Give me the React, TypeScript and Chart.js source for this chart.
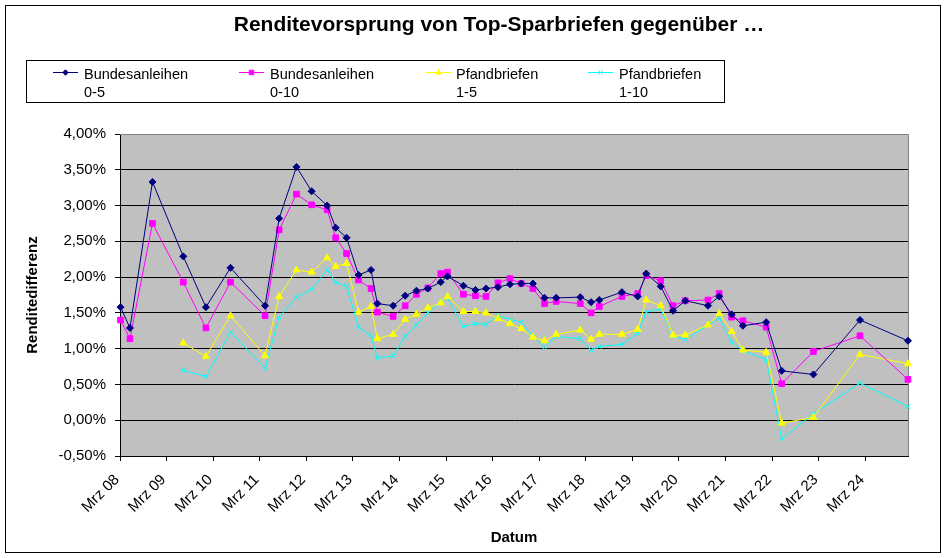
import React, { useEffect, useRef } from "react";
import { Chart, registerables } from "chart.js";

Chart.register(...registerables);

// ---- data ----
const dates = [
  "2008-03-05", "2008-05-18", "2008-11-12", "2009-07-10", "2010-01-05", "2010-07-15",
  "2011-04-12", "2011-08-01", "2011-12-15", "2012-04-12", "2012-08-12", "2012-10-18",
  "2013-01-12", "2013-04-15", "2013-07-21", "2013-09-10", "2014-01-12", "2014-04-15",
  "2014-07-12", "2014-10-10", "2015-01-20", "2015-03-12", "2015-07-15", "2015-10-18",
  "2016-01-10", "2016-04-12", "2016-07-15", "2016-10-12", "2017-01-12", "2017-04-12",
  "2017-07-12", "2018-01-18", "2018-04-12", "2018-06-15", "2018-12-10", "2019-04-12",
  "2019-06-18", "2019-10-10", "2020-01-15", "2020-04-20", "2020-10-15", "2021-01-12",
  "2021-04-18", "2021-07-15", "2022-01-15", "2022-05-15", "2023-01-20", "2024-01-20",
  "2025-02-01",
];

const bund05 = [
  1.58, 1.29, 3.33, 2.29, 1.58, 2.13, 1.60, 2.82, 3.54, 3.20, 3.00, 2.69,
  2.55, 2.03, 2.10, 1.63, 1.60, 1.74, 1.81, 1.84, 1.93, 2.01, 1.88, 1.82,
  1.84, 1.86, 1.90, 1.91, 1.91, 1.71, 1.71, 1.72, 1.65, 1.68, 1.79, 1.73,
  2.05, 1.87, 1.53, 1.67, 1.60, 1.73, 1.48, 1.32, 1.37, 0.69, 0.64, 1.40,
  1.11,
];

const bund010 = [
  1.40, 1.14, 2.75, 1.93, 1.29, 1.93, 1.46, 2.66, 3.16, 3.01, 2.94, 2.55,
  2.33, 1.96, 1.84, 1.51, 1.45, 1.60, 1.76, 1.85, 2.05, 2.07, 1.76, 1.74,
  1.73, 1.92, 1.98, 1.91, 1.84, 1.63, 1.66, 1.63, 1.50, 1.59, 1.73, 1.77,
  2.02, 1.95, 1.60, 1.67, 1.68, 1.77, 1.44, 1.39, 1.30, 0.51, 0.96, 1.18,
  0.57,
];

const pfand15 = [
  null, null, null, 1.08, 0.89, 1.46, 0.90, 1.73, 2.10, 2.07, 2.27, 2.15,
  2.19, 1.51, 1.59, 1.14, 1.20, 1.41, 1.48, 1.57, 1.64, 1.73, 1.52, 1.52,
  1.50, 1.42, 1.35, 1.28, 1.16, 1.11, 1.20, 1.26, 1.13, 1.20, 1.20, 1.27,
  1.68, 1.60, 1.19, 1.19, 1.33, 1.49, 1.24, 0.98, 0.95, -0.04, 0.04, 0.92,
  0.79,
];

const pfand110 = [
  null, null, null, 0.70, 0.61, 1.23, 0.73, 1.44, 1.72, 1.83, 2.10, 1.93,
  1.87, 1.30, 1.18, 0.87, 0.90, 1.17, 1.33, 1.50, 1.65, 1.71, 1.31, 1.35,
  1.34, 1.46, 1.41, 1.37, 1.17, 1.02, 1.17, 1.14, 0.98, 1.03, 1.06, 1.21,
  1.51, 1.56, 1.18, 1.13, 1.33, 1.43, 1.09, 0.97, 0.85, -0.26, 0.09, 0.52,
  0.19,
];

const tickLabels = [
  "Mrz 08", "Mrz 09", "Mrz 10", "Mrz 11", "Mrz 12", "Mrz 13", "Mrz 14", "Mrz 15",
  "Mrz 16", "Mrz 17", "Mrz 18", "Mrz 19", "Mrz 20", "Mrz 21", "Mrz 22", "Mrz 23", "Mrz 24",
];

const seriesNames = [
  ["Bundesanleihen", "0-5"],
  ["Bundesanleihen", "0-10"],
  ["Pfandbriefen", "1-5"],
  ["Pfandbriefen", "1-10"],
];

const chartTitle = "Renditevorsprung von Top-Sparbriefen gegenüber …";
const yTitle = "Renditedifferenz";
const xTitle = "Datum";

// ---- helpers ----
const FONT = "'Liberation Sans', Arial, sans-serif";

function monthIndex(d: string): number {
  const [y, m, dd] = d.split("-").map(Number);
  return (y - 2008) * 12 + (m - 3) + (dd - 1) / 30;
}

function tickMonth(label: string): number {
  const yy = Number(label.split(" ")[1]);
  return (2000 + yy - 2008) * 12;
}

const colors = ["#000080", "#FF00FF", "#FFFF00", "#00FFFF"];
const markers = ["rectRot", "rect", "triangle", "crossRot"];
const radii = [3.5, 4, 4, 3.5];

function pts(vals: (number | null)[]) {
  return vals.map((v, i) => ({ x: monthIndex(dates[i]), y: v }));
}

function drawMarker(ctx: CanvasRenderingContext2D, kind: string, x: number, y: number, r: number, color: string) {
  ctx.save();
  ctx.fillStyle = color;
  ctx.strokeStyle = color;
  ctx.lineWidth = 1;
  ctx.beginPath();
  if (kind === "rectRot") {
    ctx.moveTo(x - r, y);
    ctx.lineTo(x, y - r);
    ctx.lineTo(x + r, y);
    ctx.lineTo(x, y + r);
    ctx.closePath();
    ctx.fill();
    ctx.stroke();
  } else if (kind === "rect") {
    const s = r * Math.SQRT1_2;
    ctx.rect(x - s, y - s, 2 * s, 2 * s);
    ctx.fill();
    ctx.stroke();
  } else if (kind === "triangle") {
    for (let k = 0; k < 3; k++) {
      const a = (k * 2 * Math.PI) / 3;
      const px = x + Math.sin(a) * r;
      const py = y - Math.cos(a) * r;
      if (k === 0) ctx.moveTo(px, py);
      else ctx.lineTo(px, py);
    }
    ctx.closePath();
    ctx.fill();
    ctx.stroke();
  } else {
    const d = r * Math.SQRT1_2;
    ctx.moveTo(x - d, y - d);
    ctx.lineTo(x + d, y + d);
    ctx.moveTo(x + d, y - d);
    ctx.lineTo(x - d, y + d);
    ctx.stroke();
  }
  ctx.restore();
}

const decorPlugin = {
  id: "decor",
  beforeDraw(chart: any) {
    const { ctx, chartArea: a } = chart;
    ctx.save();
    ctx.fillStyle = "#FFFFFF";
    ctx.fillRect(0, 0, chart.width, chart.height);
    ctx.fillStyle = "#C0C0C0";
    ctx.fillRect(a.left, a.top, a.right - a.left, a.bottom - a.top);
    ctx.restore();
  },
  beforeDatasetsDraw(chart: any) {
    const { ctx, chartArea: a } = chart;
    ctx.save();
    ctx.strokeStyle = "#808080";
    ctx.lineWidth = 1;
    ctx.beginPath();
    ctx.moveTo(a.left, a.top + 0.5);
    ctx.lineTo(a.right + 0.5, a.top + 0.5);
    ctx.lineTo(a.right + 0.5, a.bottom);
    ctx.stroke();
    ctx.restore();
  },
  afterDraw(chart: any) {
    const { ctx } = chart;
    ctx.save();
    // outer frame
    ctx.strokeStyle = "#000000";
    ctx.lineWidth = 1;
    ctx.strokeRect(5.5, 5.5, 935, 547);
    // title
    ctx.fillStyle = "#000000";
    ctx.font = `bold 21px ${FONT}`;
    ctx.textAlign = "center";
    ctx.textBaseline = "alphabetic";
    ctx.fillText(chartTitle, 499, 31);
    // legend box
    ctx.strokeRect(26.5, 60.5, 698, 42);
    const lineX = [53, 239, 426, 588];
    const textX = [84, 270, 456, 619];
    ctx.font = `14.5px ${FONT}`;
    ctx.textAlign = "left";
    for (let i = 0; i < 4; i++) {
      ctx.strokeStyle = colors[i];
      ctx.beginPath();
      ctx.moveTo(lineX[i], 72.5);
      ctx.lineTo(lineX[i] + 25, 72.5);
      ctx.stroke();
      drawMarker(ctx, markers[i], lineX[i] + 12.5, 72.5, radii[i] - 0.8, colors[i]);
      ctx.fillStyle = "#000000";
      ctx.fillText(seriesNames[i][0], textX[i], 79);
      ctx.fillText(seriesNames[i][1], textX[i], 96.5);
    }
    ctx.restore();
  },
};

export default function App() {
  const ref = useRef<HTMLCanvasElement | null>(null);

  useEffect(() => {
    if (!ref.current) return;
    const series = [bund05, bund010, pfand15, pfand110];
    const chart = new Chart(ref.current, {
      type: "line",
      data: {
        datasets: series.map((s, i) => ({
          label: seriesNames[i].join(" "),
          data: pts(s),
          borderColor: colors[i],
          backgroundColor: colors[i],
          borderWidth: 1,
          pointStyle: markers[i] as any,
          pointRadius: radii[i],
          pointBorderWidth: 1,
          pointBackgroundColor: colors[i],
          pointBorderColor: colors[i],
          tension: 0,
          fill: false,
          clip: false as any,
          spanGaps: false,
        })),
      },
      options: {
        responsive: false,
        animation: false,
        devicePixelRatio: 1,
        layout: { padding: { top: 134, left: 0, right: 41, bottom: 5 } },
        plugins: {
          legend: { display: false },
          title: { display: false },
          tooltip: { enabled: false },
        },
        scales: {
          x: {
            type: "linear",
            min: 0,
            max: monthIndex(dates[dates.length - 1]),
            afterBuildTicks: (scale: any) => {
              scale.ticks = tickLabels.map((l) => ({ value: tickMonth(l) }));
            },
            afterFit: (scale: any) => {
              scale.height = 97;
            },
            ticks: {
              autoSkip: false,
              minRotation: 45,
              maxRotation: 45,
              padding: 10,
              labelOffset: -3,
              color: "#000000",
              font: { family: FONT, size: 15 },
              callback: (v: any) => {
                const i = tickLabels.findIndex((l) => tickMonth(l) === Number(v));
                return i >= 0 ? tickLabels[i] : "";
              },
            },
            grid: {
              drawOnChartArea: false,
              drawTicks: true,
              tickLength: 5,
              tickColor: "#000000",
              color: "#000000",
            },
            border: { display: true, color: "#000000", width: 1 },
            title: {
              display: true,
              text: xTitle,
              color: "#000000",
              font: { family: FONT, size: 15, weight: "bold" },
              padding: { top: 0, bottom: 6 },
            },
          },
          y: {
            type: "linear",
            min: -0.5,
            max: 4,
            afterFit: (scale: any) => {
              scale.width = 120;
            },
            ticks: {
              stepSize: 0.5,
              padding: 9,
              color: "#000000",
              font: { family: FONT, size: 15 },
              callback: (v: any) => Number(v).toFixed(2).replace(".", ",") + "%",
            },
            grid: {
              color: "#000000",
              tickColor: "#000000",
              tickLength: 5,
              drawTicks: true,
            },
            border: { display: true, color: "#000000", width: 1 },
            title: {
              display: true,
              text: yTitle,
              color: "#000000",
              font: { family: FONT, size: 15, weight: "bold" },
              padding: { top: 24, bottom: 0 },
            },
          },
        },
      },
      plugins: [decorPlugin],
    });
    return () => chart.destroy();
  }, []);

  return (
    <div style={{ position: "fixed", left: 0, top: 0, width: 949, height: 558, background: "#fff" }}>
      <canvas ref={ref} width={949} height={558} style={{ display: "block" }} />
    </div>
  );
}
